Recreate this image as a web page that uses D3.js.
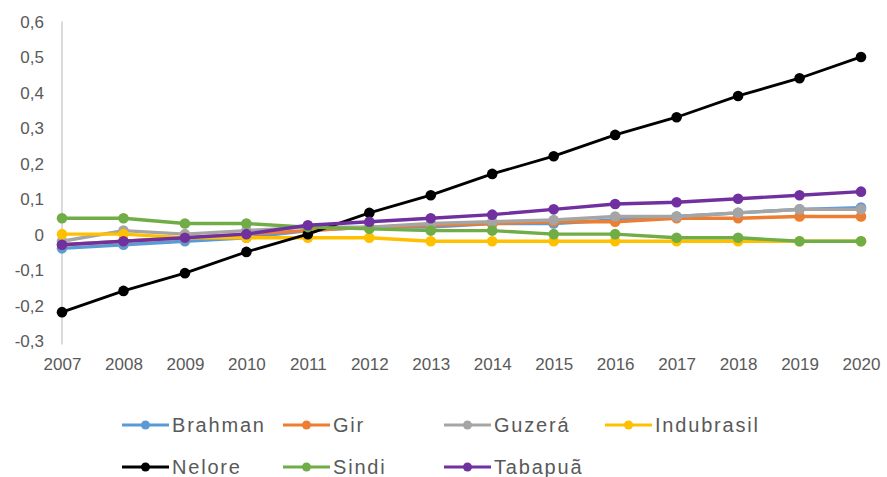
<!DOCTYPE html>
<html>
<head>
<meta charset="utf-8">
<script src="https://cdn.jsdelivr.net/npm/d3@7"></script>
<style>
  html, body { margin: 0; padding: 0; background: #ffffff; }
  svg { display: block; }
  text { font-family: "Liberation Sans", Arial, sans-serif; fill: #595959; }
</style>
</head>
<body>
<svg id="chart" width="887" height="477"></svg>
<script>
// Years on the horizontal axis
const years = [2007, 2008, 2009, 2010, 2011, 2012, 2013, 2014, 2015, 2016, 2017, 2018, 2019, 2020];

// Breed names, in drawing order
const breeds = ["Brahman", "Gir", "Guzerá", "Indubrasil", "Nelore", "Sindi", "Tabapuã"];

// Yearly values per breed
const brahman    = [-0.04, -0.03, -0.02, -0.01, 0.01, 0.02, 0.02, 0.03, 0.03, 0.04, 0.05, 0.06, 0.07, 0.075];
const gir        = [-0.03, -0.02, -0.01, 0.00, 0.01, 0.02, 0.025, 0.03, 0.035, 0.035, 0.045, 0.045, 0.05, 0.05];
const guzera     = [-0.02, 0.01, 0.00, 0.01, 0.02, 0.02, 0.03, 0.035, 0.04, 0.05, 0.05, 0.06, 0.07, 0.07];
const indubrasil = [0.00, 0.00, -0.01, -0.01, -0.01, -0.01, -0.02, -0.02, -0.02, -0.02, -0.02, -0.02, -0.02, -0.02];
const nelore     = [-0.22, -0.16, -0.11, -0.05, 0.00, 0.06, 0.11, 0.17, 0.22, 0.28, 0.33, 0.39, 0.44, 0.50];
const sindi      = [0.045, 0.045, 0.03, 0.03, 0.02, 0.015, 0.01, 0.01, 0.00, 0.00, -0.01, -0.01, -0.02, -0.02];
const tabapua    = [-0.03, -0.02, -0.01, 0.00, 0.025, 0.035, 0.045, 0.055, 0.07, 0.085, 0.09, 0.10, 0.11, 0.12];

// Series colours
const colors = ["#5B9BD5", "#ED7D31", "#A5A5A5", "#FFC000", "#000000", "#70AD47", "#7030A0"];

// Vertical axis ticks and their labels
const yTicks = [-0.3, -0.2, -0.1, 0, 0.1, 0.2, 0.3, 0.4, 0.5, 0.6];
const yTickLabels = ["-0,3", "-0,2", "-0,1", "0", "0,1", "0,2", "0,3", "0,4", "0,5", "0,6"];

const seriesValues = [brahman, gir, guzera, indubrasil, nelore, sindi, tabapua];
const series = breeds.map((name, i) => ({
  name,
  color: colors[i],
  points: years.map((yr, j) => ({ year: yr, value: seriesValues[i][j] }))
}));

const svg = d3.select("#chart");

const x = d3.scalePoint().domain(years).range([62, 861]).padding(0);
const y = d3.scaleLinear().domain([-0.3, 0.6]).range([340.5, 21.5]);

// Vertical axis line
svg.append("line")
  .attr("x1", x(years[0])).attr("x2", x(years[0]))
  .attr("y1", y(0.6)).attr("y2", y(-0.3) + 4)
  .attr("stroke", "#cfcfcf").attr("stroke-width", 1.5);

// Vertical axis labels
const yAxis = d3.axisLeft(y)
  .tickValues(yTicks)
  .tickSize(0)
  .tickPadding(0)
  .tickFormat((d, i) => yTickLabels[i]);
const gy = svg.append("g").attr("transform", "translate(44,0)").call(yAxis);
gy.select(".domain").remove();
gy.selectAll("text")
  .attr("font-size", 17)
  .attr("font-family", "\"Liberation Sans\", Arial, sans-serif")
  .attr("fill", "#595959")
  .attr("dy", "0.35em");

// Horizontal axis labels
const xAxis = d3.axisBottom(x).tickSize(0).tickPadding(0).tickFormat(d => String(d));
const gx = svg.append("g").attr("transform", "translate(0,361)").call(xAxis);
gx.select(".domain").remove();
gx.selectAll("text")
  .attr("font-size", 17)
  .attr("font-family", "\"Liberation Sans\", Arial, sans-serif")
  .attr("fill", "#595959")
  .attr("dy", "0.5em");

// Lines and markers
const line = d3.line().x(d => x(d.year)).y(d => y(d.value));
const plot = svg.append("g");
series.forEach(s => {
  const g = plot.append("g");
  g.append("path")
    .datum(s.points)
    .attr("fill", "none")
    .attr("stroke", s.color)
    .attr("stroke-width", s.name === "Nelore" ? 2.8 : 3.4)
    .attr("stroke-linejoin", "round")
    .attr("d", line);
  g.selectAll("circle")
    .data(s.points)
    .join("circle")
    .attr("cx", d => x(d.year))
    .attr("cy", d => y(d.value))
    .attr("r", 5.3)
    .attr("fill", s.color);
});

// Legend: four entries per row
const legend = svg.append("g");
series.forEach((s, i) => {
  const col = i % 4, row = Math.floor(i / 4);
  const lx = 122 + col * 161;
  const ly = 425 + row * 42;
  const item = legend.append("g").attr("transform", `translate(${lx},${ly})`);
  item.append("line")
    .attr("x1", 0).attr("x2", 47).attr("y1", 0).attr("y2", 0)
    .attr("stroke", s.color).attr("stroke-width", 3);
  item.append("circle").attr("cx", 23.5).attr("cy", 0).attr("r", 4.5).attr("fill", s.color);
  item.append("text")
    .attr("x", 50).attr("y", 0).attr("dy", "0.36em")
    .attr("font-size", 20)
    .attr("letter-spacing", "1.8px")
    .text(s.name);
});
</script>
</body>
</html>
